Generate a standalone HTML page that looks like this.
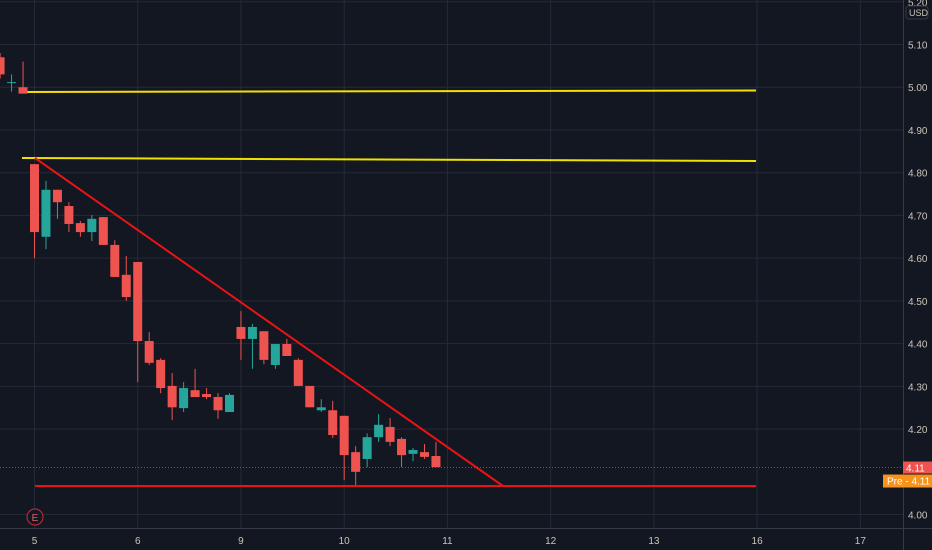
<!DOCTYPE html>
<html><head><meta charset="utf-8"><style>
html,body{margin:0;padding:0;background:#131722;}
svg{display:block;font-family:"Liberation Sans",sans-serif;}
</style></head><body>
<svg id="chart" width="932" height="550" viewBox="0 0 932 550">
<rect x="0" y="0" width="932" height="550" fill="#131722"/>
<g id="grid"></g>
<g id="drawings"></g>
<g id="candles"></g>
<g id="axes"></g>
</svg>
<script>
const opens  = [5.07,5.01,5.00, 4.820,4.650,4.760,4.722,4.682,4.661,4.696,4.631,4.561,4.591,4.406,4.362,4.301,4.249,4.291,4.282,4.275,4.240, 4.439,4.411,4.429,4.350,4.399,4.362,4.301,4.244,4.244,4.231,4.146,4.130,4.181,4.205,4.177,4.142,4.146,4.137];
const highs  = [5.08,5.03,5.06, 4.820,4.781,4.760,4.731,4.687,4.701,4.696,4.642,4.605,4.591,4.427,4.366,4.331,4.310,4.341,4.296,4.284,4.284, 4.476,4.446,4.429,4.399,4.411,4.366,4.301,4.270,4.266,4.231,4.160,4.190,4.235,4.226,4.181,4.156,4.165,4.170];
const lows   = [5.02,4.99,4.985,4.600,4.621,4.692,4.661,4.650,4.640,4.631,4.556,4.500,4.310,4.350,4.284,4.221,4.240,4.275,4.270,4.224,4.240, 4.362,4.341,4.352,4.341,4.371,4.301,4.251,4.240,4.179,4.081,4.069,4.111,4.170,4.160,4.111,4.125,4.130,4.111];
const closes = [5.03,5.012,4.985,4.661,4.760,4.731,4.680,4.661,4.692,4.631,4.556,4.509,4.406,4.355,4.296,4.251,4.296,4.275,4.275,4.244,4.280, 4.411,4.439,4.362,4.399,4.371,4.301,4.251,4.251,4.186,4.139,4.100,4.181,4.210,4.170,4.139,4.151,4.135,4.111];
const startIndex = -3;
const priceTicks = [5.20,5.10,5.00,4.90,4.80,4.70,4.60,4.50,4.40,4.30,4.20,4.00];
const dayLabels = ["5","6","9","10","11","12","13","16","17"];
const dayIndex = [0,9,18,27,36,45,54,63,72];
const lastPrice = 4.11;

const NS="http://www.w3.org/2000/svg";
const PW=903, PB=528;
function y(p){return 44.5+(5.10-p)*427.3;}
function x(i){return 34.5+i*11.47;}
function el(tag,attrs,parent,text){const e=document.createElementNS(NS,tag);for(const k in attrs)e.setAttribute(k,attrs[k]);if(text!==undefined)e.textContent=text;parent.appendChild(e);return e;}
const grid=document.getElementById('grid'),axes=document.getElementById('axes'),cg=document.getElementById('candles'),dr=document.getElementById('drawings');

priceTicks.forEach(p=>{
  const yy=y(p);
  const g=el('line',{x1:0,x2:PW,y1:yy,y2:yy,stroke:'#262a36','stroke-width':1},grid);
  
  
  const t=el('text',{x:908,y:yy+4,fill:'#c9c6b8','font-size':10},axes,p.toFixed(2));
  
  
});
dayLabels.forEach((d,k)=>{
  const xx=x(dayIndex[k]);
  const g=el('line',{x1:xx,x2:xx,y1:0,y2:PB,stroke:'#262a36','stroke-width':1},grid);
  
  
  const t=el('text',{x:xx,y:544,fill:'#c9c6b8','font-size':10,'text-anchor':'middle'},axes,d);
  
  
});
let a=el('line',{x1:PW+0.5,x2:PW+0.5,y1:0,y2:550,stroke:'#363a45'},axes);

a=el('line',{x1:0,x2:932,y1:PB+0.5,y2:PB+0.5,stroke:'#363a45'},axes);


function ln(x1,y1,x2,y2,c,name){const l=el('line',{x1,y1,x2,y2,stroke:c,'stroke-width':2},dr);}
ln(22,92,756,90.5,'#f0e100','resistance-line-upper');
ln(22,158,756,161,'#f0e100','resistance-line-lower');
ln(35,158,503,486,'#e81414','descending-trendline');
ln(35,486,756,486,'#e81414','support-line');

for(let i=0;i<opens.length;i++){
  const idx=startIndex+i, xx=x(idx);
  const up=closes[i]>=opens[i];
  const col=up?'#26a69a':'#ef5350';
  const w=el('line',{x1:xx,x2:xx,y1:y(highs[i]),y2:y(lows[i]),stroke:col,'stroke-width':1},cg);
  
  
  const top=y(Math.max(opens[i],closes[i])),bot=y(Math.min(opens[i],closes[i]));
  const b=el('rect',{x:xx-4.5,y:top,width:9,height:Math.max(1,bot-top),fill:col},cg);
  
  
}
const ly=y(lastPrice);
let d=el('line',{x1:0,x2:PW,y1:ly,y2:ly,stroke:'#ef5350','stroke-width':1,'stroke-dasharray':'1,2',opacity:0.7},dr);

let r=el('rect',{x:903,y:ly-6,width:29,height:12,fill:'#ef5350'},axes);

let t=el('text',{x:906,y:ly+4,fill:'#fff','font-size':10},axes,lastPrice.toFixed(2));

r=el('rect',{x:883,y:ly+7,width:49,height:13,fill:'#f7931a'},axes);

t=el('text',{x:887,y:ly+17,fill:'#fff','font-size':10},axes,'Pre  - '+lastPrice.toFixed(2));

r=el('rect',{x:906,y:6,width:22,height:13,rx:3,fill:'#131722',stroke:'#363a45'},axes);

t=el('text',{x:909,y:16,fill:'#c9c6b8','font-size':9},axes,'USD');

const c=el('circle',{cx:35,cy:517,r:8,fill:'#131722',stroke:'#b22833','stroke-width':1.2},axes);

t=el('text',{x:35,y:521,fill:'#e0606a','font-size':10,'text-anchor':'middle'},axes,'E');

</script>
</body></html>
